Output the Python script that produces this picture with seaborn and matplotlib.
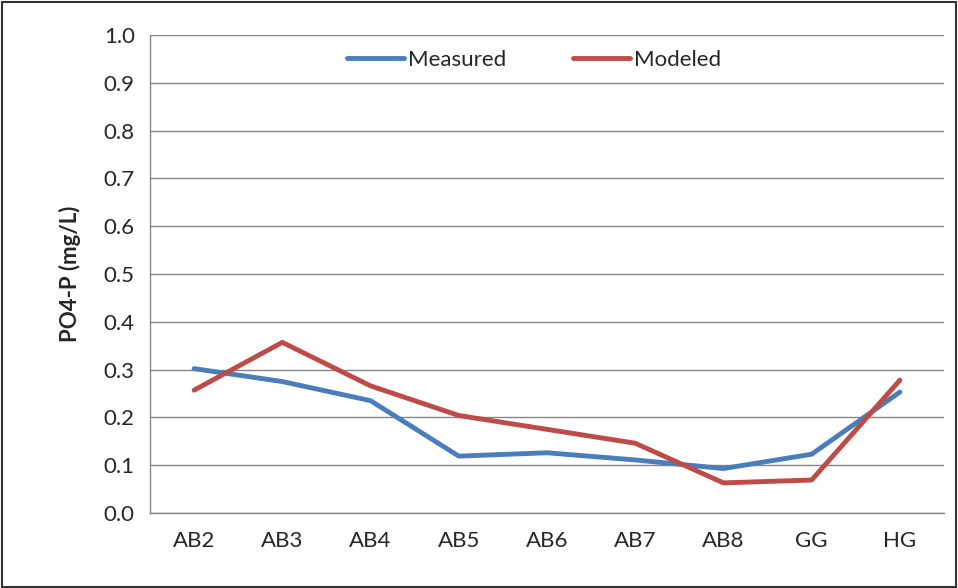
import matplotlib
matplotlib.use("Agg")
import matplotlib.pyplot as plt
import seaborn as sns
import pandas as pd
from matplotlib.patches import Rectangle

sites = ["AB2", "AB3", "AB4", "AB5", "AB6", "AB7", "AB8", "GG", "HG"]
measured = [0.302, 0.275, 0.235, 0.119, 0.126, 0.111, 0.093, 0.123, 0.253]
modeled = [0.257, 0.357, 0.266, 0.204, 0.175, 0.146, 0.063, 0.069, 0.278]
yticks = [0.0, 0.1, 0.2, 0.3, 0.4, 0.5, 0.6, 0.7, 0.8, 0.9, 1.0]

sns.set_style("white")
plt.rcParams['font.family'] = ['Lato', 'DejaVu Sans']

df = pd.DataFrame({
    "site": sites * 2,
    "x": list(range(len(sites))) * 2,
    "value": measured + modeled,
    "series": ["Measured"] * len(sites) + ["Modeled"] * len(sites),
})

fig = plt.figure(figsize=(9.58, 5.88), dpi=100)
ax = fig.add_axes([150 / 958, 1 - 513 / 588, 794 / 958, 478 / 588])

sns.lineplot(data=df, x="x", y="value", hue="series",
             palette={"Measured": "#4A7EBB", "Modeled": "#BE4B48"},
             linewidth=3.5, ax=ax, sort=False)

ax.set_xlim(-0.5, len(sites) - 0.5)
ax.set_ylim(0, 1.0)
ax.set_yticks(yticks)
ax.set_yticklabels([f"{v:.1f}" for v in yticks], fontsize=16)
ax.set_xticks(range(len(sites)))
ax.set_xticklabels(sites, fontsize=16)
ax.set_xticks([i - 0.5 for i in range(len(sites) + 1)], minor=True)
ax.tick_params(axis="x", which="major", length=0, pad=13)
ax.tick_params(axis="x", which="minor", length=6, color="#868686", width=1)
ax.tick_params(axis="y", length=6, color="#868686", width=1, pad=5)
ax.set_xlabel("")
ax.set_ylabel("PO4-P (mg/L)", fontsize=16, fontweight="bold", labelpad=16)

ax.grid(axis="y", color="#868686", linewidth=1)
ax.set_axisbelow(True)
for s in ["top", "right"]:
    ax.spines[s].set_visible(False)
for s in ["left", "bottom"]:
    ax.spines[s].set_color("#868686")
    ax.spines[s].set_linewidth(1)

handles, labels = ax.get_legend_handles_labels()
ax.legend(handles, labels, loc="center", bbox_to_anchor=(534 / 958, 1 - 60 / 588),
          bbox_transform=fig.transFigure, ncol=2, frameon=False, fontsize=16,
          handlelength=2.55, handletextpad=0.2, columnspacing=3.0)

fig.patches.append(Rectangle((0.002, 0.002), 0.996, 0.994, transform=fig.transFigure,
                             fill=False, edgecolor="#333333", linewidth=1.5))

fig.savefig("out.png", dpi=100)
